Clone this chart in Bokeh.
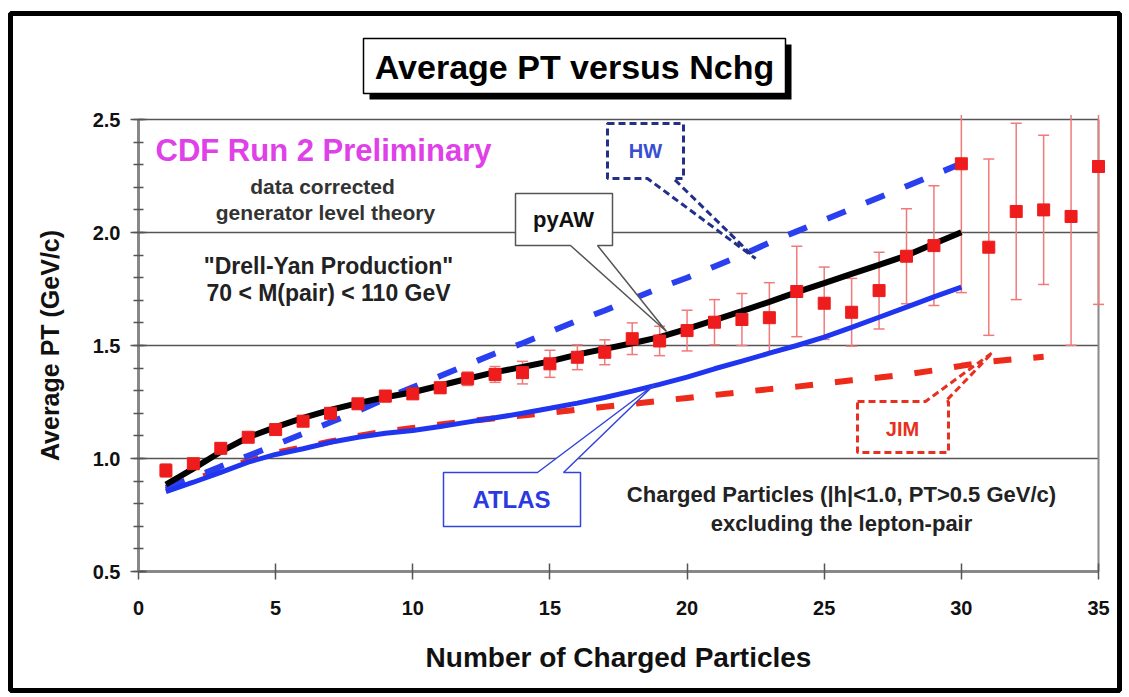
from bokeh.plotting import figure
from bokeh.models import (Label, BoxAnnotation, SingleIntervalTicker,
                          Range1d, NumeralTickFormatter, LinearAxis)
from bokeh.embed import file_html
from bokeh.resources import INLINE

# ---------------- data ----------------
nchg = list(range(1, 36))
data_pt = [0.947, 0.977, 1.045, 1.094, 1.128, 1.165, 1.200, 1.242, 1.276, 1.286,
           1.313, 1.353, 1.372, 1.380, 1.419, 1.448, 1.470, 1.530, 1.520, 1.566,
           1.603, 1.615, 1.623, 1.739, 1.687, 1.647, 1.743, 1.895, 1.942, 2.304,
           1.935, 2.093, 2.100, 2.071, 2.292]
data_err = [0.03, 0.02, 0.02, 0.02, 0.02, 0.02, 0.02, 0.02, 0.025, 0.02,
            0.025, 0.03, 0.035, 0.05, 0.06, 0.055, 0.055, 0.07, 0.065, 0.09,
            0.10, 0.115, 0.155, 0.20, 0.16, 0.15, 0.17, 0.21, 0.265, 0.57,
            0.39, 0.39, 0.33, 0.57, 0.61]

theory_n = list(range(1, 31))
pyaw_pt = [0.885, 0.955, 1.030, 1.094, 1.139, 1.180, 1.215, 1.245, 1.271, 1.293,
           1.323, 1.353, 1.382, 1.405, 1.430, 1.460, 1.485, 1.510, 1.537, 1.574,
           1.612, 1.652, 1.693, 1.736, 1.776, 1.817, 1.857, 1.898, 1.950, 2.001]
atlas_pt = [0.853, 0.895, 0.939, 0.984, 1.018, 1.043, 1.072, 1.094, 1.112, 1.124,
            1.142, 1.161, 1.180, 1.200, 1.222, 1.245, 1.270, 1.298, 1.328, 1.360,
            1.397, 1.431, 1.466, 1.500, 1.537, 1.580, 1.625, 1.670, 1.715, 1.758]
hw_pt = [0.870, 0.915, 0.965, 1.012, 1.060, 1.110, 1.160, 1.210, 1.265, 1.315,
         1.365, 1.415, 1.465, 1.510, 1.560, 1.610, 1.655, 1.705, 1.755, 1.800,
         1.850, 1.900, 1.955, 2.005, 2.055, 2.105, 2.155, 2.205, 2.255, 2.305]
jim_n = list(range(1, 34))
jim_pt = [0.860, 0.905, 0.950, 0.990, 1.025, 1.050, 1.075, 1.100, 1.120, 1.135,
          1.150, 1.165, 1.178, 1.190, 1.203, 1.216, 1.229, 1.242, 1.255, 1.268,
          1.281, 1.294, 1.307, 1.318, 1.332, 1.346, 1.358, 1.372, 1.390, 1.410,
          1.428, 1.440, 1.450]

grid_levels = [1.0, 1.5, 2.0, 2.5]
x_title = "Number of Charged Particles"
y_title = "Average PT (GeV/c)"
chart_title = "Average PT versus Nchg"

# ---------------- layout helpers ----------------
W, H = 1129, 697
L, R, T, B = 138, 1098, 119, 571          # plot area in pixels
X0, X1, Y0, Y1 = 0, 35, 0.5, 2.5          # axis extents


def dx(px):
    return X0 + (px - L) / (R - L) * (X1 - X0)


def dy(py):
    return Y0 + (B - py) / (B - T) * (Y1 - Y0)


FONT = "Liberation Sans"

# the frame covers the whole canvas; axes are pinned at the plot-area edges
p = figure(width=W, height=H, x_range=Range1d(dx(0), dx(W)),
           y_range=Range1d(dy(H), dy(0)), output_backend="svg",
           toolbar_location=None, min_border=0,
           x_axis_location=None, y_axis_location=None)
p.center = []
p.background_fill_color = "white"
p.border_fill_color = "white"
p.outline_line_color = None

# horizontal grid lines across the plot area only
p.segment(x0=[X0] * len(grid_levels), y0=grid_levels,
          x1=[X1] * len(grid_levels), y1=grid_levels,
          line_color="#555555", line_width=1.5)
# right edge of the plot area
p.segment(x0=[X1], y0=[Y0], x1=[X1], y1=[Y1], line_color="#888888", line_width=2)

# axes
xaxis = LinearAxis(fixed_location=Y0, bounds=(X0, X1),
                   ticker=SingleIntervalTicker(interval=5, num_minor_ticks=0),
                   axis_label=x_title)
yaxis = LinearAxis(fixed_location=X0, bounds=(Y0, Y1),
                   ticker=SingleIntervalTicker(interval=0.5, num_minor_ticks=5),
                   formatter=NumeralTickFormatter(format="0.0"),
                   axis_label=y_title)
for ax in (xaxis, yaxis):
    ax.axis_line_color = "#888888"
    ax.axis_line_width = 3
    ax.major_tick_line_color = "#555555"
    ax.major_tick_line_width = 1.5
    ax.major_tick_in = 8
    ax.major_tick_out = 8
    ax.minor_tick_line_color = "#555555"
    ax.minor_tick_line_width = 1.5
    ax.minor_tick_in = 5
    ax.minor_tick_out = 5
    ax.major_label_text_font = FONT
    ax.major_label_text_font_style = "bold"
    ax.major_label_text_font_size = "20px"
    ax.major_label_text_color = "#111111"
    ax.axis_label_text_font = FONT
    ax.axis_label_text_font_style = "bold"
    ax.axis_label_text_color = "#111111"
xaxis.axis_label_text_font_size = "28px"
yaxis.axis_label_text_font_size = "25px"
xaxis.major_label_standoff = 21
yaxis.major_label_standoff = 10
xaxis.axis_label_standoff = 24
yaxis.axis_label_standoff = 26
p.add_layout(xaxis, "below")
p.add_layout(yaxis, "left")

# ---------------- outer frame & title ----------------
p.add_layout(BoxAnnotation(left=dx(10), right=dx(1119), top=dy(13), bottom=dy(690),
                           fill_alpha=0, line_color="black", line_alpha=1,
                           line_width=5))
p.add_layout(BoxAnnotation(left=dx(369), right=dx(791), top=dy(44), bottom=dy(99),
                           fill_color="black", fill_alpha=1, line_alpha=0))
p.add_layout(BoxAnnotation(left=dx(363), right=dx(785), top=dy(38), bottom=dy(93),
                           fill_color="white", fill_alpha=1, line_color="black",
                           line_alpha=1, line_width=1.5))
p.add_layout(Label(x=dx(574), y=dy(66), text=chart_title,
                   text_align="center", text_baseline="middle", text_font=FONT,
                   text_font_style="bold", text_font_size="34px", text_color="black"))

# ---------------- error bars, curves, points ----------------
lo = [v - e for v, e in zip(data_pt, data_err)]
hi = [v + e for v, e in zip(data_pt, data_err)]
hi_shown = [min(h, Y1 + 0.02) for h in hi]          # bars are cut at the plot top
cap_n = [n for n, h in zip(nchg, hi) if h <= Y1]
cap_hi = [h for h in hi if h <= Y1]
ERR = "#f07a7a"
p.segment(x0=nchg, y0=lo, x1=nchg, y1=hi_shown, line_color=ERR, line_width=1.5)
p.scatter(x=nchg, y=lo, marker="dash", size=11, line_color=ERR, line_width=1.5)
p.scatter(x=cap_n, y=cap_hi, marker="dash", size=11, line_color=ERR, line_width=1.5)

p.line(jim_n, jim_pt, line_color="#ee2a1a", line_width=6, line_dash="18 22")
p.line(theory_n, hw_pt, line_color="#2a40f0", line_width=6, line_dash="20 22")
p.line(theory_n, atlas_pt, line_color="#1f35f0", line_width=5)
p.line(theory_n, pyaw_pt, line_color="black", line_width=6)
p.scatter(x=nchg, y=data_pt, marker="square", size=12, color="#ee1c1c")


# ---------------- callouts ----------------
def poly(pts):
    return [dx(a) for a, b in pts], [dy(b) for a, b in pts]


xs, ys = poly([(515, 193), (612, 193), (612, 245), (597, 245), (666, 331),
               (570, 245), (515, 245)])
p.patch(xs, ys, fill_color="white", line_color="#555555", line_width=1.5)
p.add_layout(Label(x=dx(563), y=dy(219), text="pyAW", text_align="center",
                   text_baseline="middle", text_font=FONT, text_font_style="bold",
                   text_font_size="22px", text_color="#111111"))

xs, ys = poly([(443, 472), (537, 472), (654, 384), (563, 472), (580, 472),
               (580, 526), (443, 526)])
p.patch(xs, ys, fill_color="white", line_color="#3344dd", line_width=1.5)
p.add_layout(Label(x=dx(511), y=dy(499), text="ATLAS", text_align="center",
                   text_baseline="middle", text_font=FONT, text_font_style="bold",
                   text_font_size="24px", text_color="#2a3ae0"))

xs, ys = poly([(607, 123), (683, 123), (683, 178), (673, 178), (755, 258),
               (647, 178), (607, 178)])
p.patch(xs, ys, fill_color="white", line_color="#22308a", line_width=3,
        line_dash="7 4")
p.add_layout(Label(x=dx(645), y=dy(150), text="HW", text_align="center",
                   text_baseline="middle", text_font=FONT, text_font_style="bold",
                   text_font_size="20px", text_color="#3a4fd0"))

xs, ys = poly([(857, 401), (925, 401), (992, 352), (945, 401), (948, 401),
               (948, 452), (857, 452)])
p.patch(xs, ys, fill_color="white", line_color="#e83020", line_width=3,
        line_dash="7 4")
p.add_layout(Label(x=dx(902), y=dy(428), text="JIM", text_align="center",
                   text_baseline="middle", text_font=FONT, text_font_style="bold",
                   text_font_size="20px", text_color="#e83020"))


# ---------------- text annotations ----------------
def txt(px, py, s, size, color="#222222"):
    p.add_layout(Label(x=dx(px), y=dy(py), text=s, text_align="center",
                       text_baseline="middle", text_font=FONT, text_font_style="bold",
                       text_font_size=size, text_color=color))


txt(323, 150, "CDF Run 2 Preliminary", "31px", "#e040e8")
txt(322, 186, "data corrected", "21px", "#333333")
txt(325, 212, "generator level theory", "21px", "#333333")
txt(328, 265, "\"Drell-Yan Production\"", "23px")
txt(328, 292, "70 < M(pair) < 110 GeV", "23px")
txt(841, 494, "Charged Particles (|h|<1.0, PT>0.5 GeV/c)", "22px")
txt(841, 523, "excluding the lepton-pair", "22px")

open("out.html", "w").write(file_html(p, INLINE))
